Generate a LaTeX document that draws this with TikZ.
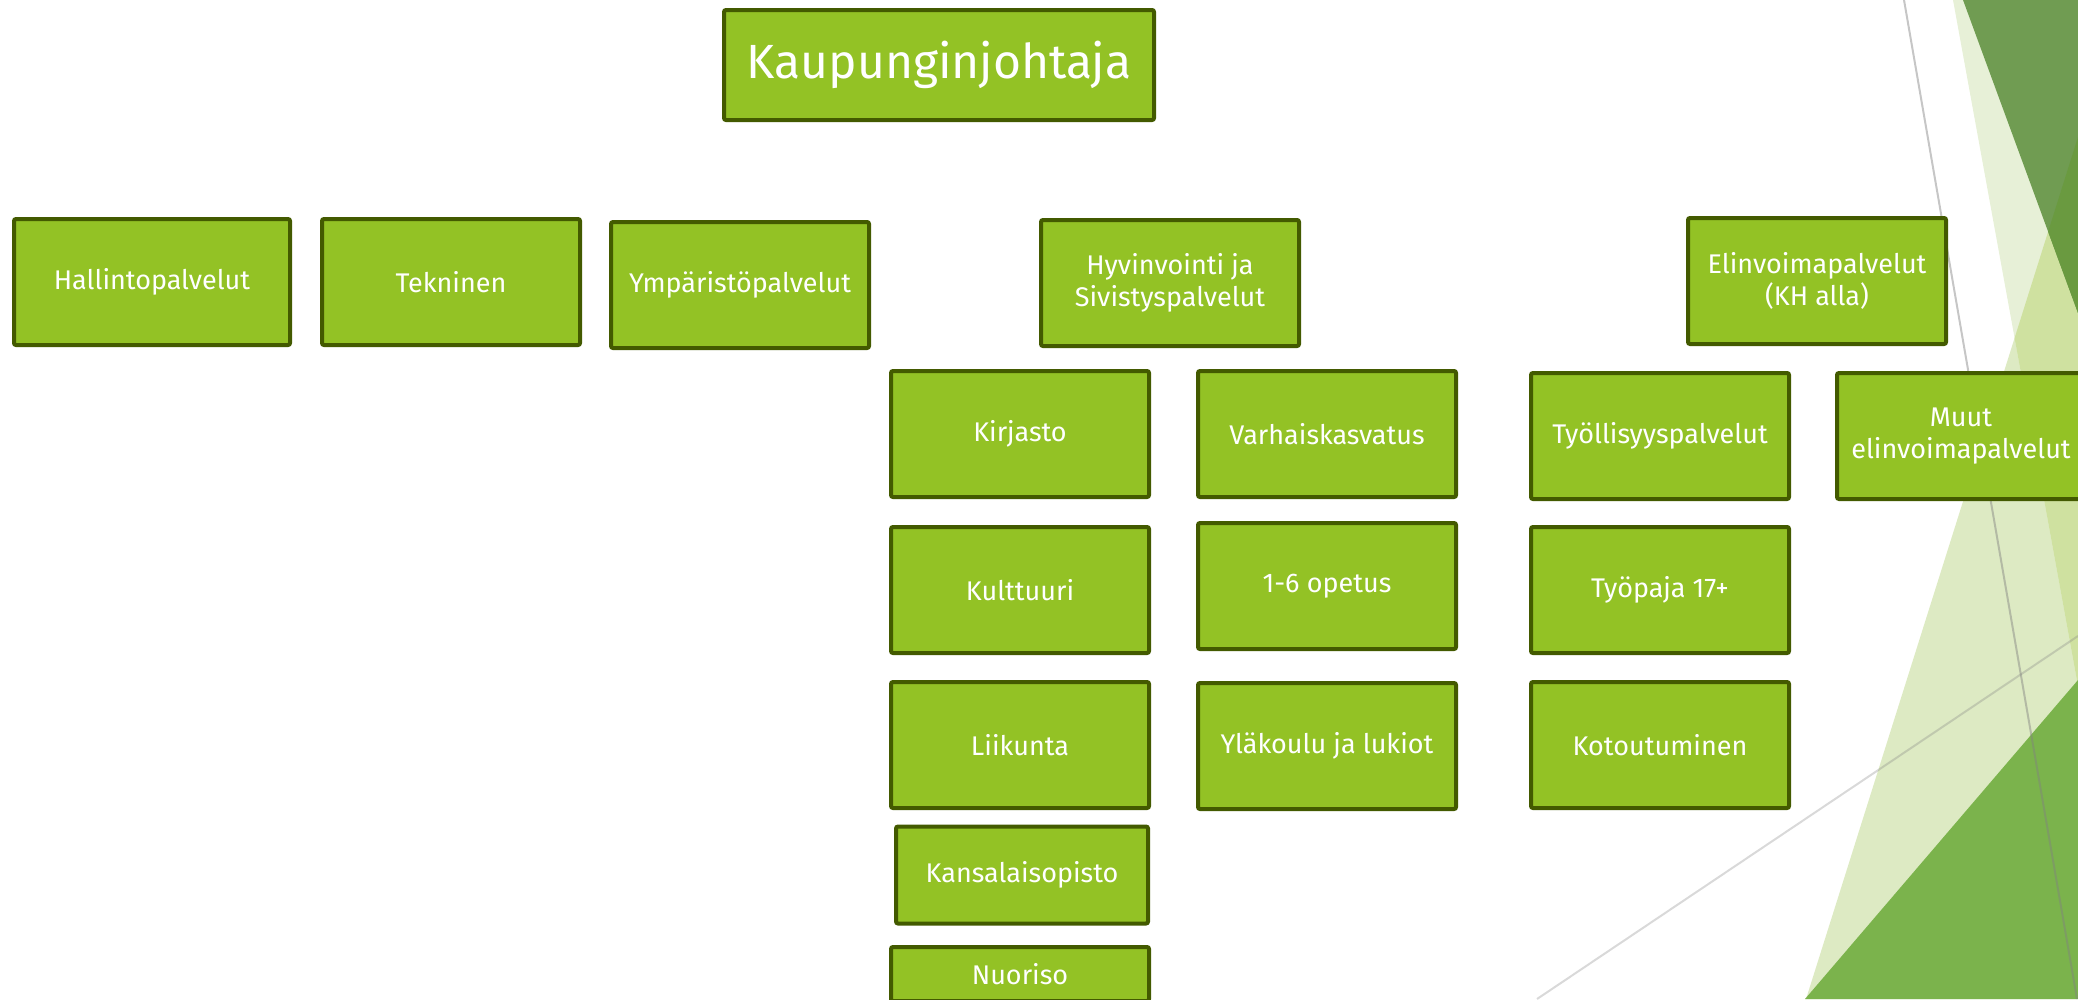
\documentclass[tikz,border=0pt]{standalone}
\usepackage{fontspec}
\setmainfont{Fira Sans}
\usepackage{xcolor}
\usetikzlibrary{positioning}
\definecolor{boxfill}{HTML}{93C225}
\definecolor{boxline}{HTML}{435A00}
\definecolor{paleA}{HTML}{E7F0D7}
\definecolor{paleB}{HTML}{DDEAC3}
\definecolor{paleAB}{HTML}{CFE1A0}
\definecolor{darkA}{HTML}{709C52}
\definecolor{darkAB}{HTML}{6A9A40}
\definecolor{brightA}{HTML}{7BB34C}
\tikzset{%
	unit/.style   = {draw=boxline, fill=boxfill, line width=4pt, rounded corners=2pt, rectangle, minimum width=258pt, minimum height=126pt, inner sep=2pt, text=white, align=center, font=\fontsize{27}{32}\selectfont}, % Unit
	head/.style   = {unit, minimum width=430pt, minimum height=110pt, font=\fontsize{48}{58}\selectfont}, % Top
	slimline/.style = {draw=gray, line width=2pt}, % Facet line
}

\begin{document}
\begin{tikzpicture}[x=1pt, y=-1pt, node distance=307pt]
	\useasboundingbox (0,0) rectangle (2078,999);
	
	% facets
	\fill[paleB] (2078,137) -- (1806,999) -- (2078,999) -- cycle;
	\fill[paleA] (1953,0) -- (2078,0) -- (2078,686) -- cycle;
	\begin{scope}
		\clip (2078,137) -- (1806,999) -- (2078,999) -- cycle;
		\fill[paleAB] (1953,0) -- (2078,0) -- (2078,686) -- cycle;
	\end{scope}
	\fill[darkA] (1963,0) -- (2078,0) -- (2078,313) -- cycle;
	\begin{scope}
		\clip (2078,137) -- (1806,999) -- (2078,999) -- cycle;
		\fill[darkAB] (1963,0) -- (2078,0) -- (2078,313) -- cycle;
	\end{scope}
	\fill[brightA] (1805,999) -- (2078,680) -- (2078,999) -- cycle;
	\draw[slimline, opacity=0.45] (1904,0) -- (2077,999);
	\draw[slimline, opacity=0.3] (1537,999) -- (2078,636);
	
	\node[head] (kj) at (939,65) {Kaupunginjohtaja};
	
	\node[unit, minimum width=276pt] (hallinto) at (152,282) {Hallintopalvelut};
	\node[unit, right of=hallinto, node distance=299pt] (tekn) {Tekninen};
	\node[unit, right of=tekn, node distance=289pt, yshift=-3pt] (ymp) {Ympäristöpalvelut};
	\node[unit] (hyv) at (1170,283) {Hyvinvointi ja\\Sivistyspalvelut};
	\node[unit] (elin) at (1817,281) {Elinvoimapalvelut\\(KH alla)};
	
	\node[unit] (kirj) at (1020,434) {Kirjasto};
	\node[unit, right of=kirj] (varh) {Varhaiskasvatus};
	\node[unit, right of=varh, node distance=333pt, yshift=-2pt] (tyol) {Työllisyyspalvelut};
	\node[unit, right of=tyol, node distance=301pt, minimum width=248pt] (muut) {Muut\\elinvoimapalvelut};
	
	\node[unit, below of=kirj, node distance=156pt] (kult) {Kulttuuri};
	\node[unit, below of=varh, node distance=152pt] (ope) {1-6 opetus};
	\node[unit, below of=tyol, node distance=154pt] (paja) {Työpaja 17+};
	
	\node[unit, below of=kult, node distance=155pt] (liik) {Liikunta};
	\node[unit, below of=ope, node distance=160pt] (ylak) {Yläkoulu ja lukiot};
	\node[unit, below of=paja, node distance=155pt] (koto) {Kotoutuminen};
	
	\node[unit, below of=liik, node distance=130pt, xshift=2pt, minimum width=252pt, minimum height=97pt] (kans) {Kansalaisopisto};
	\node[unit, below of=kans, node distance=99pt, xshift=-2pt, minimum height=54pt] (nuor) {Nuoriso};
\end{tikzpicture}
\end{document}
